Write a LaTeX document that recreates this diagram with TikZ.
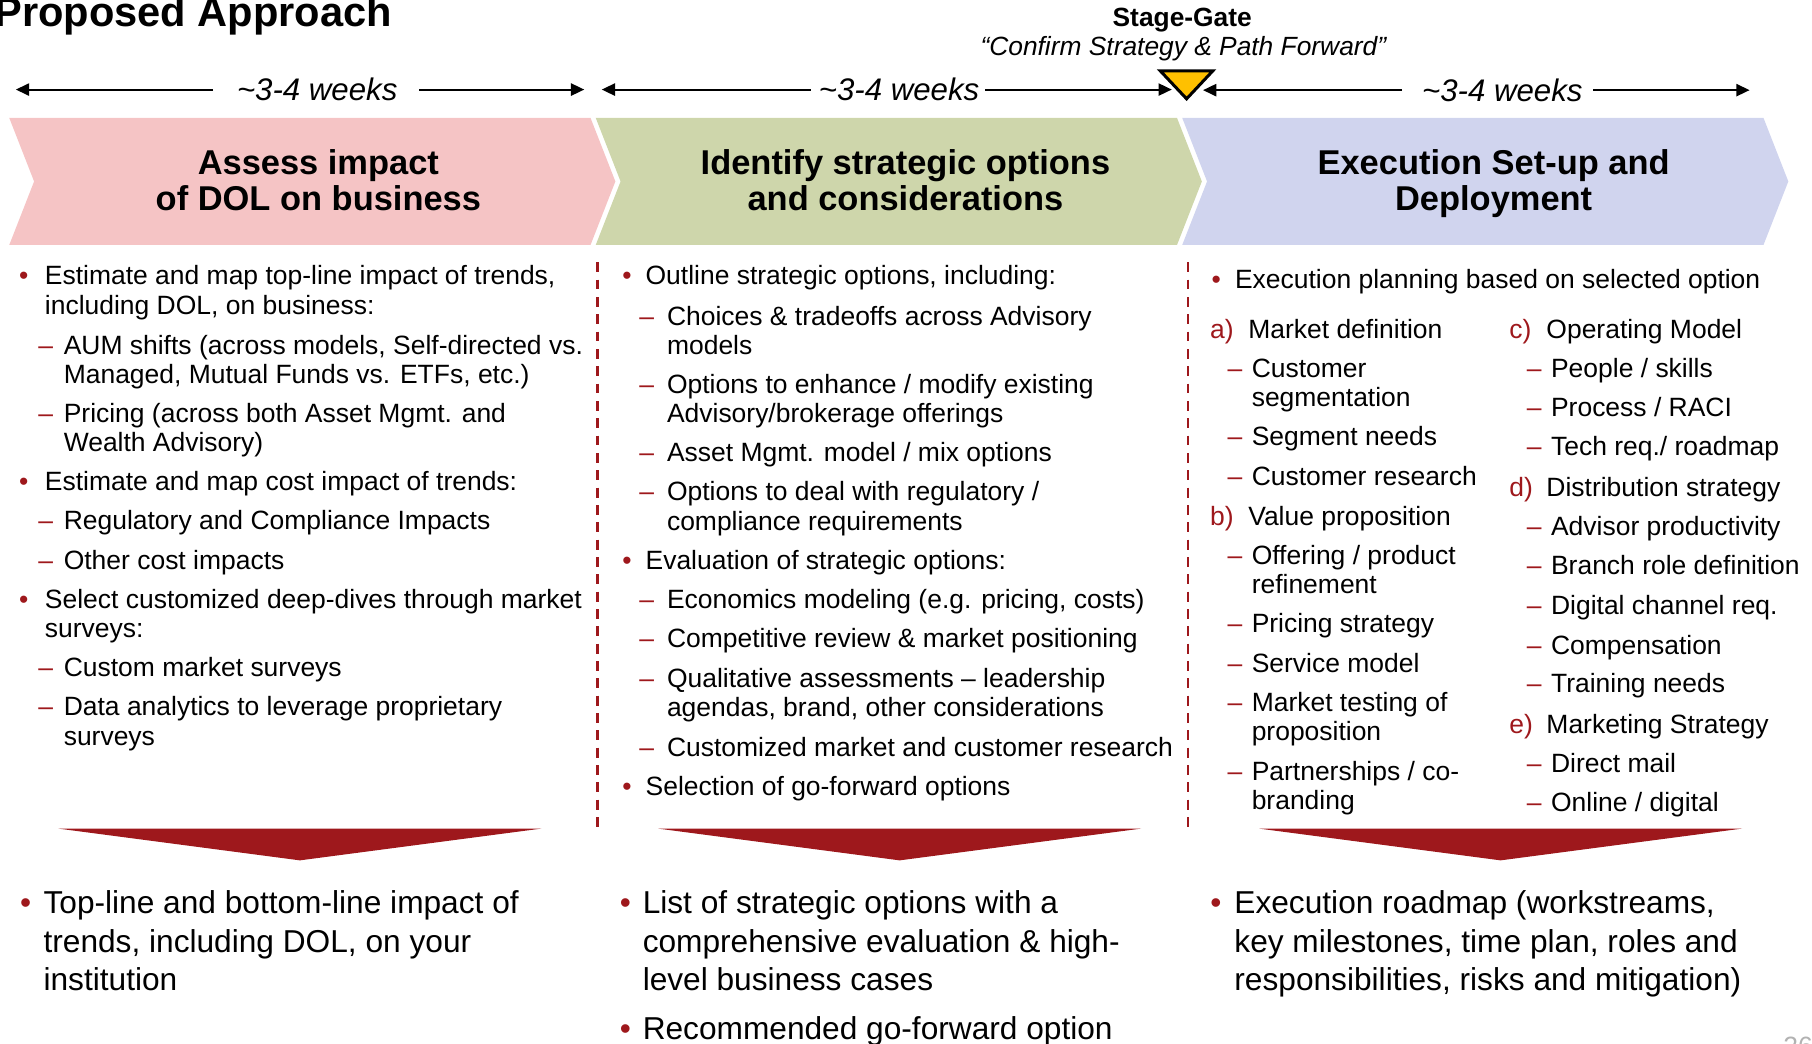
\documentclass[tikz,border=0pt]{standalone}
\usepackage{fontspec}
\setmainfont{Liberation Sans}
\usetikzlibrary{arrows.meta}

\definecolor{dkred}{RGB}{158,24,28}
\definecolor{gold}{RGB}{255,192,0}
\definecolor{pinkfill}{RGB}{245,196,197}
\definecolor{greenfill}{RGB}{206,214,171}
\definecolor{bluefill}{RGB}{208,212,238}

\newcommand\titlefont{\fontsize{36}{40}\selectfont\bfseries}
\newcommand\phasefont{\fontsize{29.8}{31.7}\selectfont\bfseries}
\newcommand\weeksfont{\fontsize{27}{30}\selectfont\itshape}
\newcommand\gatefont{\fontsize{22.8}{25}\selectfont}
\newcommand\bodyfont{\fontsize{22.9}{25.5}\selectfont}
\newcommand\outfont{\fontsize{27.4}{33.5}\selectfont}

\begin{document}
\begin{tikzpicture}[
  x=1pt,y=-1pt,
  phase/.style={font=\phasefont,align=center,anchor=base,inner sep=0pt},
  weeks/.style={font=\weeksfont,inner sep=0pt},
  span/.style={line width=1.8pt,-{Triangle[length=11.5pt,width=10.5pt]}},
  txt/.style={font=\bodyfont,anchor=base west,align=left,inner sep=0pt},
  lead/.style={txt,text=dkred},
  outtxt/.style={font=\outfont,anchor=base west,align=left,inner sep=0pt},
  outlead/.style={outtxt,text=dkred},
  divider/.style={dkred,line width=2.3pt,dash pattern=on 8.5pt off 6.5pt}
]
  \useasboundingbox (0,0) rectangle (1568,903);

  \node[font=\titlefont,anchor=base west,inner sep=0pt] (title) at (-5,23) {Proposed Approach};

  % Stage gate between the second and third phase.
  \node[font=\gatefont\bfseries,anchor=base,inner sep=0pt] (gate) at (1023,23) {Stage-Gate};
  \node[font=\gatefont\itshape,anchor=base,inner sep=0pt] (gateq) at (1024,47.6)
    {“Confirm Strategy \& Path Forward”};
  \draw[line width=2.6pt,fill=gold,line join=miter]
    (1004,61.3) -- (1049.5,61.3) -- (1026.8,85.5) -- cycle;

  % Duration arrows above the phases.
  \node[weeks] (w1) at (274.5,77.5) {\textasciitilde3-4 weeks};
  \node[weeks] (w2) at (778,77.5) {\textasciitilde3-4 weeks};
  \node[weeks] (w3) at (1300,78) {\textasciitilde3-4 weeks};
  \coordinate (w1l) at (13.7,77.5);
  \coordinate (w1r) at (505.6,77.5);
  \coordinate (w2l) at (520.7,77.5);
  \coordinate (w2r) at (1014,77.5);
  \coordinate (w3l) at (1041,78);
  \coordinate (w3r) at (1514,78);
  \draw[span] ([xshift=-20.5pt]w1.west) -- (w1l);
  \draw[span] ([xshift=18.5pt]w1.east) -- (w1r);
  \draw[span] ([xshift=-7pt]w2.west) -- (w2l);
  \draw[span] ([xshift=5pt]w2.east) -- (w2r);
  \draw[span] ([xshift=-17pt]w3.west) -- (w3l);
  \draw[span] ([xshift=9pt]w3.east) -- (w3r);

  % Phase chevrons (multi-line nodes sit on their last baseline).
  \foreach \x/\c in {8/pinkfill,515.5/greenfill,1023/bluefill}
    \fill[\c] (\x,102) -- ++(503,0) -- ++(21.5,55) -- ++(-21.5,55)
      -- ++(-503,0) -- ++(21.5,-55) -- cycle;
  \node[phase] (assess) at (275.5,182.3) {Assess impact\\of DOL on business};
  \node[phase] (identify) at (783.5,182.3) {Identify strategic options\\and considerations};
  \node[phase] (execute) at (1292.5,182.3) {Execution Set-up and\\Deployment};

  \draw[divider] (517,227) -- (517,716);
  \draw[divider] (1028,227) -- (1028,716);

  % First phase activities.
  \node[lead] (toplinem) at (16.3,246.5) {•};
  \node[txt] (topline) at (38.7,272) {Estimate and map top-line impact of trends,\\including DOL, on business:};
  \node[lead] (aumm) at (33,306.5) {–};
  \node[txt] (aum) at (55,332) {AUM shifts (across models, Self-directed vs.\\Managed, Mutual Funds vs. ETFs, etc.)};
  \node[lead] (pricem) at (33,365.5) {–};
  \node[txt] (price) at (55,391) {Pricing (across both Asset Mgmt. and\\Wealth Advisory)};
  \node[lead] (costm) at (16.3,424.5) {•};
  \node[txt] (cost) at (38.7,424.5) {Estimate and map cost impact of trends:};
  \node[lead] (regm) at (33,458.5) {–};
  \node[txt] (reg) at (55,458.5) {Regulatory and Compliance Impacts};
  \node[lead] (otherm) at (33,492.5) {–};
  \node[txt] (other) at (55,492.5) {Other cost impacts};
  \node[lead] (selectm) at (16.3,526.5) {•};
  \node[txt] (select) at (38.7,552) {Select customized deep-dives through market\\surveys:};
  \node[lead] (surveym) at (33,585.5) {–};
  \node[txt] (survey) at (55,585.5) {Custom market surveys};
  \node[lead] (datam) at (33,619.5) {–};
  \node[txt] (data) at (55,645) {Data analytics to leverage proprietary\\surveys};

  % Second phase activities.
  \node[lead] (outlinem) at (538.3,246.5) {•};
  \node[txt] (outline) at (558.5,246.5) {Outline strategic options, including:};
  \node[lead] (choicem) at (553,281.5) {–};
  \node[txt] (choice) at (577,307) {Choices \& tradeoffs across Advisory\\models};
  \node[lead] (enhancem) at (553,340.5) {–};
  \node[txt] (enhance) at (577,366) {Options to enhance / modify existing\\Advisory/brokerage offerings};
  \node[lead] (mixm) at (553,399.5) {–};
  \node[txt] (mix) at (577,399.5) {Asset Mgmt. model / mix options};
  \node[lead] (dealm) at (553,433.5) {–};
  \node[txt] (deal) at (577,459) {Options to deal with regulatory /\\compliance requirements};
  \node[lead] (evalm) at (538.3,492.5) {•};
  \node[txt] (eval) at (558.5,492.5) {Evaluation of strategic options:};
  \node[lead] (econm) at (553,526.5) {–};
  \node[txt] (econ) at (577,526.5) {Economics modeling (e.g. pricing, costs)};
  \node[lead] (compm) at (553,560.5) {–};
  \node[txt] (comp) at (577,560.5) {Competitive review \& market positioning};
  \node[lead] (qualm) at (553,594.5) {–};
  \node[txt] (qual) at (577,620) {Qualitative assessments – leadership\\agendas, brand, other considerations};
  \node[lead] (researchm) at (553,654.5) {–};
  \node[txt] (research) at (577,654.5) {Customized market and customer research};
  \node[lead] (selm) at (538.3,688.5) {•};
  \node[txt] (sel) at (558.5,688.5) {Selection of go-forward options};

  % Third phase activities, in two columns.
  \node[lead] (planm) at (1048.3,249.5) {•};
  \node[txt] (plan) at (1068.5,249.5) {Execution planning based on selected option};
  \node[lead] (mktm) at (1047,292.5) {a)};
  \node[txt] (mkt) at (1080,292.5) {Market definition};
  \node[lead] (segm) at (1062,326.5) {–};
  \node[txt] (seg) at (1083,352) {Customer\\segmentation};
  \node[lead] (needsm) at (1062,385.5) {–};
  \node[txt] (needs) at (1083,385.5) {Segment needs};
  \node[lead] (custm) at (1062,420.5) {–};
  \node[txt] (cust) at (1083,420.5) {Customer research};
  \node[lead] (valuem) at (1047,454.5) {b)};
  \node[txt] (value) at (1080,454.5) {Value proposition};
  \node[lead] (offerm) at (1062,488.5) {–};
  \node[txt] (offer) at (1083,514) {Offering / product\\refinement};
  \node[lead] (pstratm) at (1062,547.5) {–};
  \node[txt] (pstrat) at (1083,547.5) {Pricing strategy};
  \node[lead] (servm) at (1062,581.5) {–};
  \node[txt] (serv) at (1083,581.5) {Service model};
  \node[lead] (testm) at (1062,615.5) {–};
  \node[txt] (test) at (1083,641) {Market testing of\\proposition};
  \node[lead] (partm) at (1062,675.5) {–};
  \node[txt] (part) at (1083,700.5) {Partnerships / co-\\branding};

  \node[lead] (opm) at (1306,292.5) {c)};
  \node[txt] (op) at (1338,292.5) {Operating Model};
  \node[lead] (peoplem) at (1321,326.5) {–};
  \node[txt] (people) at (1342,326.5) {People / skills};
  \node[lead] (processm) at (1321,360.5) {–};
  \node[txt] (process) at (1342,360.5) {Process / RACI};
  \node[lead] (techm) at (1321,394.5) {–};
  \node[txt] (tech) at (1342,394.5) {Tech req./ roadmap};
  \node[lead] (distm) at (1306,429.5) {d)};
  \node[txt] (dist) at (1338,429.5) {Distribution strategy};
  \node[lead] (advm) at (1321,463.5) {–};
  \node[txt] (adv) at (1342,463.5) {Advisor productivity};
  \node[lead] (branchm) at (1321,497.5) {–};
  \node[txt] (branch) at (1342,497.5) {Branch role definition};
  \node[lead] (digm) at (1321,531.5) {–};
  \node[txt] (dig) at (1342,531.5) {Digital channel req.};
  \node[lead] (paym) at (1321,566.5) {–};
  \node[txt] (pay) at (1342,566.5) {Compensation};
  \node[lead] (trainm) at (1321,599.5) {–};
  \node[txt] (train) at (1342,599.5) {Training needs};
  \node[lead] (mktgm) at (1306,634.5) {e)};
  \node[txt] (mktg) at (1338,634.5) {Marketing Strategy};
  \node[lead] (mailm) at (1321,668.5) {–};
  \node[txt] (mail) at (1342,668.5) {Direct mail};
  \node[lead] (onlinem) at (1321,702.5) {–};
  \node[txt] (online) at (1342,702.5) {Online / digital};

  % Outcome arrows and deliverables.
  \foreach \x in {50.5,569.5,1089.5}
    \fill[dkred] (\x,717) -- ++(418,0) -- ++(-209,27.5) -- cycle;

  \node[outlead] (impactm) at (17.2,790.5) {•};
  \node[outtxt] (impact) at (37.5,857.5) {Top-line and bottom-line impact of\\trends, including DOL, on your\\institution};
  \node[outlead] (listm) at (536.2,790.5) {•};
  \node[outtxt] (list) at (556,857.5) {List of strategic options with a\\comprehensive evaluation \& high-\\level business cases};
  \node[outlead] (recm) at (536.2,899.5) {•};
  \node[outtxt] (rec) at (556,899.5) {Recommended go-forward option};
  \node[outlead] (roadm) at (1047.2,790.5) {•};
  \node[outtxt] (road) at (1068,857.5) {Execution roadmap (workstreams,\\key milestones, time plan, roles and\\responsibilities, risks and mitigation)};

  \node[font=\bodyfont,text=gray!60,anchor=base west,inner sep=0pt] (pageno) at (1543,913) {26};
\end{tikzpicture}
\end{document}
